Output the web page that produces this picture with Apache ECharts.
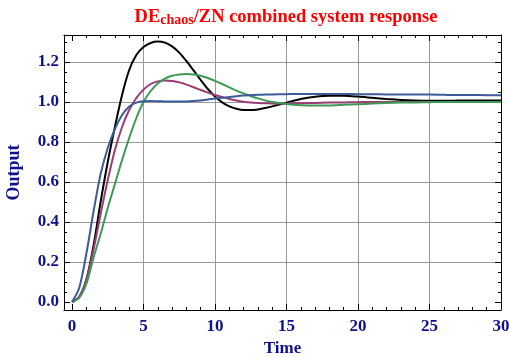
<!DOCTYPE html>
<html>
<head>
<meta charset="utf-8">
<script src="https://cdn.jsdelivr.net/npm/echarts@6/dist/echarts.min.js"></script>
<style>html,body{margin:0;padding:0;background:#fff}#c{width:509px;height:358px}</style>
</head>
<body>
<div id="c"></div>
<script>
// Time samples
var T = [0,0.5,1,1.5,2,2.5,3,3.5,4,4.5,5,5.5,6,6.5,7,7.5,8,8.5,9,9.5,10,10.5,11,11.5,12,12.5,13,13.5,14,
         15,16,17,18,19,20,21,22,23,24,25,26,27,28,29,30];
// Responses
var blackY = [0,0.025,0.11,0.28,0.5,0.7,0.875,1.035,1.16,1.235,1.275,1.295,1.302,1.297,1.278,1.247,1.205,1.158,1.11,1.065,
              1.027,0.998,0.978,0.966,0.96,0.96,0.963,0.97,0.978,
              0.997,1.015,1.026,1.031,1.031,1.027,1.021,1.015,1.01,1.007,1.006,1.006,1.007,1.008,1.008,1.008];
var purpleY = [0,0.025,0.11,0.26,0.44,0.61,0.76,0.875,0.96,1.02,1.062,1.09,1.103,1.107,1.105,1.098,1.087,1.074,1.06,1.047,
               1.035,1.025,1.015,1.007,1.001,0.997,0.995,0.994,0.993,
               0.993,0.994,0.995,0.997,0.998,0.999,1,1,1,1,1,1,1,1,1,1];
var greenY = [0,0.02,0.09,0.22,0.34,0.47,0.59,0.71,0.82,0.92,1.0,1.055,1.093,1.117,1.131,1.138,1.14,1.138,1.131,1.12,
              1.106,1.09,1.073,1.057,1.043,1.03,1.018,1.008,1.0,
              0.99,0.984,0.982,0.983,0.986,0.989,0.992,0.995,0.997,0.998,0.999,1,1,1,1,1];
var blueY = [0,0.07,0.24,0.45,0.64,0.77,0.865,0.935,0.978,0.997,1.004,1.005,1.004,1.003,1.002,1.002,1.003,1.005,1.008,1.012,
             1.017,1.021,1.025,1.029,1.032,1.034,1.036,1.037,1.038,
             1.039,1.04,1.04,1.04,1.04,1.039,1.039,1.038,1.038,1.037,1.037,1.036,1.035,1.035,1.034,1.034];
// Ticks
var xMajor = [0,5,10,15,20,25,30];
var xGridVals = [5,10,15,20,25];
var xMinor = [0,1,2,3,4,5,6,7,8,9,10,11,12,13,14,15,16,17,18,19,20,21,22,23,24,25,26,27,28,29,30];
var yMajor = [0,0.2,0.4,0.6,0.8,1.0,1.2];
var yGridVals = [0.2,0.4,0.6,0.8,1.0,1.2];
var yMinor = [0,0.05,0.1,0.15,0.2,0.25,0.3,0.35,0.4,0.45,0.5,0.55,0.6,0.65,0.7,0.75,0.8,0.85,0.9,0.95,1.0,1.05,1.1,1.15,1.2,1.25,1.3];
var XMIN = -0.56, XMAX = 30, YMIN = -0.04, YMAX = 1.335;

var FONT = '"Liberation Serif","Times New Roman",serif';
var LABEL = '#10108c';

function pairs(ys){ return T.map(function(t,i){ return [t, ys[i]]; }); }

function xAx(pos, opts){
  var a = {type:'value', position:pos, min:XMIN, max:XMAX,
    axisLine:{show:false, onZero:false, lineStyle:{color:'#000', width:1}},
    axisTick:{show:false}, axisLabel:{show:false}, splitLine:{show:false}};
  for (var k in opts) a[k] = opts[k];
  return a;
}
function yAx(pos, opts){
  var a = {type:'value', position:pos, min:YMIN, max:YMAX,
    axisLine:{show:false, onZero:false, lineStyle:{color:'#000', width:1}},
    axisTick:{show:false}, axisLabel:{show:false}, splitLine:{show:false}};
  for (var k in opts) a[k] = opts[k];
  return a;
}
var tickStyle = {color:'#000', width:1};

var chart = echarts.init(document.getElementById('c'), null, {renderer:'canvas'});
chart.setOption({
  animation:false,
  backgroundColor:'#fff',
  grid:{left:64, right:8, top:35, bottom:48, containLabel:false, outerBoundsMode:'none'},
  graphic:[{
    type:'text', x:286, y:5, z:10,
    style:{
      text:'{a|DE}{b|chaos}{a|/ZN combined system response}',
      align:'center', verticalAlign:'top',
      rich:{
        a:{fontSize:18.5, fontWeight:'bold', fontFamily:FONT, fill:'#ff0000', lineHeight:22, verticalAlign:'bottom'},
        b:{fontSize:14, fontWeight:'bold', fontFamily:FONT, fill:'#ff0000', lineHeight:16, verticalAlign:'bottom'}
      }
    }
  }],
  xAxis:[
    xAx('bottom', {
      axisLine:{show:true, onZero:false, lineStyle:{color:'#000', width:1}},
      axisTick:{show:true, inside:true, length:6, customValues:xMajor, lineStyle:tickStyle},
      axisLabel:{show:true, customValues:xMajor, margin:8, color:LABEL, fontFamily:FONT, fontWeight:'bold', fontSize:17,
                 formatter:function(v){ return String(Math.round(v)); }},
      name:'Time', nameLocation:'middle', nameGap:28,
      nameTextStyle:{color:LABEL, fontFamily:FONT, fontWeight:'bold', fontSize:17}
    }),
    xAx('bottom', {axisTick:{show:true, inside:true, length:3, customValues:xMinor, lineStyle:tickStyle}}),
    xAx('bottom', {axisTick:{show:false, customValues:xGridVals}, splitLine:{show:true, lineStyle:{color:'#9a9a9a', width:1}}}),
    xAx('top', {
      axisLine:{show:true, onZero:false, lineStyle:{color:'#000', width:1}},
      axisTick:{show:true, inside:true, length:6, customValues:xMajor, lineStyle:tickStyle}
    }),
    xAx('top', {axisTick:{show:true, inside:true, length:3, customValues:xMinor, lineStyle:tickStyle}})
  ],
  yAxis:[
    yAx('left', {
      axisLine:{show:true, onZero:false, lineStyle:{color:'#000', width:1}},
      axisTick:{show:true, inside:true, length:6, customValues:yMajor, lineStyle:tickStyle},
      axisLabel:{show:true, customValues:yMajor, margin:5, color:LABEL, fontFamily:FONT, fontWeight:'bold', fontSize:17,
                 formatter:function(v){ return v.toFixed(1); }},
      name:'Output', nameLocation:'middle', nameGap:41,
      nameTextStyle:{color:LABEL, fontFamily:FONT, fontWeight:'bold', fontSize:18}
    }),
    yAx('left', {axisTick:{show:true, inside:true, length:3, customValues:yMinor, lineStyle:tickStyle}}),
    yAx('left', {axisTick:{show:false, customValues:yGridVals}, splitLine:{show:true, lineStyle:{color:'#9a9a9a', width:1}}}),
    yAx('right', {
      axisLine:{show:true, onZero:false, lineStyle:{color:'#000', width:1}},
      axisTick:{show:true, inside:true, length:6, customValues:yMajor, lineStyle:tickStyle}
    }),
    yAx('right', {axisTick:{show:true, inside:true, length:3, customValues:yMinor, lineStyle:tickStyle}})
  ],
  series:[
    {name:'black', type:'line', data:pairs(blackY), showSymbol:false, smooth:0.3, lineStyle:{color:'#000000', width:2}, z:3},
    {name:'purple', type:'line', data:pairs(purpleY), showSymbol:false, smooth:0.3, lineStyle:{color:'#993d71', width:2}, z:3},
    {name:'green', type:'line', data:pairs(greenY), showSymbol:false, smooth:0.3, lineStyle:{color:'#3d9956', width:2}, z:3},
    {name:'blue', type:'line', data:pairs(blueY), showSymbol:false, smooth:0.3, lineStyle:{color:'#3d5a99', width:2}, z:3}
  ]
});
</script>
</body>
</html>
